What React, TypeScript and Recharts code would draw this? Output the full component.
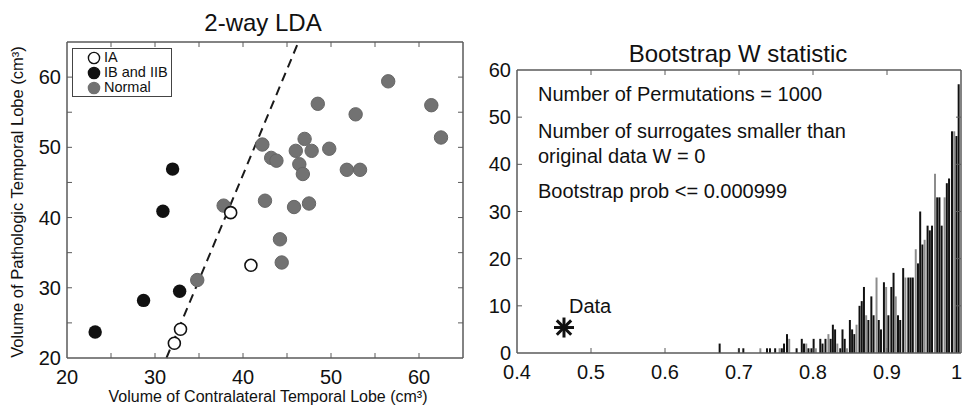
import {
  ScatterChart,
  ComposedChart,
  Scatter,
  Bar,
  Cell,
  XAxis,
  YAxis,
  Legend,
  ReferenceLine,
  ReferenceDot,
} from 'recharts';

// left panel: LDA scatter (cm3)
const iaPoints = [
  { x: 38.6, y: 40.7 },
  { x: 40.9, y: 33.2 },
  { x: 32.9, y: 24.1 },
  { x: 32.2, y: 22.1 },
];
const ibPoints = [
  { x: 32.0, y: 46.9 },
  { x: 30.9, y: 40.9 },
  { x: 32.8, y: 29.5 },
  { x: 28.7, y: 28.2 },
  { x: 23.2, y: 23.7 },
];
const normalPoints = [
  { x: 56.5, y: 59.4 },
  { x: 48.5, y: 56.2 },
  { x: 52.8, y: 54.7 },
  { x: 61.4, y: 56.0 },
  { x: 62.5, y: 51.4 },
  { x: 42.2, y: 50.4 },
  { x: 43.2, y: 48.5 },
  { x: 43.8, y: 48.1 },
  { x: 46.0, y: 49.5 },
  { x: 47.0, y: 51.2 },
  { x: 47.8, y: 49.5 },
  { x: 49.8, y: 49.8 },
  { x: 46.4, y: 47.6 },
  { x: 46.8, y: 46.2 },
  { x: 51.8, y: 46.8 },
  { x: 53.3, y: 46.8 },
  { x: 37.8, y: 41.7 },
  { x: 42.5, y: 42.4 },
  { x: 45.8, y: 41.5 },
  { x: 47.5, y: 42.0 },
  { x: 44.2, y: 36.9 },
  { x: 44.4, y: 33.6 },
  { x: 34.8, y: 31.1 },
];
const ldaBoundary = [
  { x: 31.3, y: 20 },
  { x: 46.3, y: 65 },
];
const ldaTicks = [20, 25, 30, 35, 40, 45, 50, 55, 60, 65];

// right panel: bootstrap histogram
const wBins = [
  0.674, 0.7, 0.706, 0.729, 0.738, 0.742, 0.749, 0.755, 0.758, 0.761,
  0.765, 0.768, 0.778, 0.785, 0.788, 0.791, 0.794, 0.798, 0.801, 0.804,
  0.81, 0.813, 0.817, 0.821, 0.824, 0.827, 0.83, 0.833, 0.837, 0.84,
  0.843, 0.846, 0.85, 0.853, 0.856, 0.859, 0.863, 0.866, 0.869, 0.872,
  0.875, 0.879, 0.882, 0.886, 0.889, 0.892, 0.896, 0.899, 0.902, 0.906,
  0.909, 0.912, 0.915, 0.918, 0.922, 0.925, 0.929, 0.932, 0.935, 0.939,
  0.942, 0.945, 0.948, 0.951, 0.955, 0.958, 0.961, 0.965, 0.968, 0.971,
  0.974, 0.978, 0.981, 0.984, 0.988, 0.991, 0.994, 0.997,
];
const wCounts = [
  2, 1, 1, 1, 1, 1, 1, 1, 1, 2,
  4, 3, 1, 3, 2, 2, 1, 1, 3, 1,
  3, 2, 3, 4, 3, 6, 5, 2, 1, 5,
  3, 1, 7, 5, 4, 6, 10, 11, 14, 8,
  7, 12, 8, 16, 7, 5, 15, 14, 8, 14,
  17, 12, 8, 7, 18, 16, 16, 16, 16, 22,
  19, 30, 23, 24, 27, 26, 27, 38, 33, 33,
  27, 33, 36, 37, 47, 47, 46, 57,
];
const observedW = { w: 0.4635, n: 5.4 };
const wTicks = [0.4, 0.5, 0.6, 0.7, 0.8, 0.9, 1.0];
const countTicks = [0, 10, 20, 30, 40, 50, 60];

const histRows = wBins.map((w, i) => ({ w, n: wCounts[i] }));

const FONT = "'Liberation Sans', Arial, Helvetica, sans-serif";
const INK = '#111';
const GRAY = '#727272';
const BOX = '#5a5a5a';
const TICK_LEN = 5;

// ticks point into the plot on every side, MATLAB-style (none drawn in the corners)
function makeTick(
  side: 'bottom' | 'top' | 'left' | 'right',
  ends: number[],
  label?: (v: number) => string | null,
) {
  return (props: any) => {
    const { x, y, payload } = props;
    const v = payload.value;
    const text = label ? label(v) : null;
    const edge = ends.some((e) => Math.abs(e - v) < 1e-9);
    let line = null;
    if (!edge) {
      if (side === 'bottom') line = <line x1={x} y1={y} x2={x} y2={y - TICK_LEN} stroke={BOX} />;
      else if (side === 'top') line = <line x1={x} y1={y} x2={x} y2={y + TICK_LEN} stroke={BOX} />;
      else if (side === 'left') line = <line x1={x} y1={y} x2={x + TICK_LEN} y2={y} stroke={BOX} />;
      else line = <line x1={x} y1={y} x2={x - TICK_LEN} y2={y} stroke={BOX} />;
    }
    const lastX = side === 'bottom' && text === '1';
    return (
      <g>
        {line}
        {text !== null && side === 'bottom' && (
          <text
            x={lastX ? x + 1 : x}
            y={y + 19}
            textAnchor={lastX ? 'end' : 'middle'}
            dominantBaseline="central"
            fontSize={20}
            fill={INK}
            fontFamily={FONT}
          >
            {text}
          </text>
        )}
        {text !== null && side === 'left' && (
          <text x={x - 6} y={y} textAnchor="end" dominantBaseline="central" fontSize={20} fill={INK} fontFamily={FONT}>
            {text}
          </text>
        )}
      </g>
    );
  };
}

const everyTen = (v: number) => (v % 10 === 0 && v <= 60 ? String(v) : null);
const wLabel = (v: number) => (Math.abs(v - 1) < 1e-9 ? '1' : String(Math.round(v * 10) / 10));
const plain = (v: number) => String(v);

const ldaEnds = [20, 65];
const wEnds = [0.4, 1];
const countEnds = [0, 60];

const openDot = (p: any) => <circle cx={p.cx} cy={p.cy} r={6} fill="#fff" stroke={INK} strokeWidth={1.6} />;
const blackDot = (p: any) => <circle cx={p.cx} cy={p.cy} r={6.7} fill={INK} />;
const grayDot = (p: any) => <circle cx={p.cx} cy={p.cy} r={6.7} fill={GRAY} stroke="#666" />;

const asterisk = (p: any) => {
  const r = 10;
  const d = r * 0.72;
  return (
    <g stroke={INK} strokeWidth={3}>
      <line x1={p.cx - r} y1={p.cy} x2={p.cx + r} y2={p.cy} />
      <line x1={p.cx} y1={p.cy - r} x2={p.cx} y2={p.cy + r} />
      <line x1={p.cx - d} y1={p.cy - d} x2={p.cx + d} y2={p.cy + d} />
      <line x1={p.cx - d} y1={p.cy + d} x2={p.cx + d} y2={p.cy - d} />
      <text x={p.cx + 5} y={p.cy - 15} fontSize={20} fill={INK} stroke="none" fontFamily={FONT}>
        Data
      </text>
    </g>
  );
};

const legendItems = [
  { name: 'IA', fill: '#fff', stroke: INK },
  { name: 'IB and IIB', fill: INK, stroke: INK },
  { name: 'Normal', fill: GRAY, stroke: GRAY },
];

const renderLegend = () => (
  <div
    style={{
      border: '1.5px solid #444',
      padding: '1px 4px 1px 14px',
      background: '#fff',
      fontFamily: FONT,
      fontSize: 14.5,
      color: INK,
      width: 80,
      whiteSpace: 'nowrap',
    }}
  >
    {legendItems.map((it) => (
      <div key={it.name} style={{ display: 'flex', alignItems: 'center', height: 15, lineHeight: '15px' }}>
        <svg width={14} height={14} style={{ marginRight: 3, flex: 'none' }}>
          <circle cx={7} cy={7} r={5.6} fill={it.fill} stroke={it.stroke} strokeWidth={1.4} />
        </svg>
        <span>{it.name}</span>
      </div>
    ))}
  </div>
);

const txt = (left: number, top: number, size: number, extra: any = {}) => ({
  position: 'absolute' as const,
  left,
  top,
  fontFamily: FONT,
  fontSize: size,
  color: INK,
  whiteSpace: 'nowrap' as const,
  lineHeight: 1,
  ...extra,
});

const axisLine = { stroke: BOX, strokeWidth: 1.5 };

export default function App() {
  return (
    <div style={{ position: 'absolute', left: 0, top: 0, width: 962, height: 411, background: '#fff', overflow: 'hidden' }}>
      {/* left: 2-way LDA */}
      <div style={{ position: 'absolute', left: 0, top: 0 }}>
        <ScatterChart width={480} height={411} margin={{ top: 41, right: 16, bottom: 52, left: 66 }}>
          <XAxis
            type="number"
            dataKey="x"
            domain={[20, 65]}
            allowDataOverflow
            ticks={ldaTicks}
            height={1}
            tickSize={0}
            tickMargin={0}
            interval={0}
            axisLine={axisLine}
            tickLine={false}
            tick={makeTick('bottom', ldaEnds, everyTen)}
          />
          <XAxis
            xAxisId="top"
            orientation="top"
            type="number"
            dataKey="x"
            domain={[20, 65]}
            allowDataOverflow
            ticks={ldaTicks}
            height={1}
            tickSize={0}
            tickMargin={0}
            interval={0}
            axisLine={axisLine}
            tickLine={false}
            tick={makeTick('top', ldaEnds)}
          />
          <YAxis
            type="number"
            dataKey="y"
            domain={[20, 65]}
            allowDataOverflow
            ticks={ldaTicks}
            width={1}
            tickSize={0}
            tickMargin={0}
            interval={0}
            axisLine={axisLine}
            tickLine={false}
            tick={makeTick('left', ldaEnds, everyTen)}
          />
          <YAxis
            yAxisId="right"
            orientation="right"
            type="number"
            dataKey="y"
            domain={[20, 65]}
            allowDataOverflow
            ticks={ldaTicks}
            width={1}
            tickSize={0}
            tickMargin={0}
            interval={0}
            axisLine={axisLine}
            tickLine={false}
            tick={makeTick('right', ldaEnds)}
          />
          <ReferenceLine
            segment={ldaBoundary}
            stroke="#1a1a1a"
            strokeWidth={2}
            strokeDasharray="9 6"
          />
          <Scatter name="Normal" data={normalPoints} shape={grayDot} isAnimationActive={false} />
          <Scatter name="IB and IIB" data={ibPoints} shape={blackDot} isAnimationActive={false} />
          <Scatter name="IA" data={iaPoints} shape={openDot} isAnimationActive={false} />
          <Legend
            layout="vertical"
            align="center"
            verticalAlign="middle"
            content={renderLegend}
            wrapperStyle={{ left: 72, top: 48, width: 100 }}
          />
        </ScatterChart>
      </div>
      <div style={txt(263, 23, 24, { transform: 'translate(-50%, -50%)' })}>2-way LDA</div>
      <div style={txt(268, 397, 16, { transform: 'translate(-50%, -50%)' })}>
        Volume of Contralateral Temporal Lobe (cm³)
      </div>
      <div style={txt(17, 202, 16.5, { transform: 'translate(-50%, -50%) rotate(-90deg)' })}>
        Volume of Pathologic Temporal Lobe (cm³)
      </div>

      {/* right: bootstrap histogram */}
      <div style={{ position: 'absolute', left: 470, top: 0 }}>
        <ComposedChart width={492} height={411} data={histRows} margin={{ top: 69, right: 0, bottom: 57, left: 46 }}>
          <XAxis
            type="number"
            dataKey="w"
            domain={[0.4, 1]}
            allowDataOverflow
            ticks={wTicks}
            height={1}
            tickSize={0}
            tickMargin={0}
            interval={0}
            axisLine={axisLine}
            tickLine={false}
            tick={makeTick('bottom', wEnds, wLabel)}
          />
          <XAxis
            xAxisId="top"
            orientation="top"
            type="number"
            dataKey="w"
            domain={[0.4, 1]}
            allowDataOverflow
            ticks={wTicks}
            height={1}
            tickSize={0}
            tickMargin={0}
            interval={0}
            axisLine={axisLine}
            tickLine={false}
            tick={makeTick('top', wEnds)}
          />
          <YAxis
            type="number"
            dataKey="n"
            domain={[0, 60]}
            allowDataOverflow
            ticks={countTicks}
            width={1}
            tickSize={0}
            tickMargin={0}
            interval={0}
            axisLine={axisLine}
            tickLine={false}
            tick={makeTick('left', countEnds, plain)}
          />
          <YAxis
            yAxisId="right"
            orientation="right"
            type="number"
            dataKey="n"
            domain={[0, 60]}
            allowDataOverflow
            ticks={countTicks}
            width={1}
            tickSize={0}
            tickMargin={0}
            interval={0}
            axisLine={axisLine}
            tickLine={false}
            tick={makeTick('right', countEnds)}
          />
          <Bar dataKey="n" barSize={3.1} isAnimationActive={false}>
            {histRows.map((_, i) => (
              <Cell key={i} fill={i % 4 === 3 ? '#8c8c8c' : INK} />
            ))}
          </Bar>
          <ReferenceDot x={observedW.w} y={observedW.n} shape={asterisk} />
        </ComposedChart>
      </div>
      <div style={txt(738, 54, 24, { transform: 'translate(-50%, -50%)' })}>Bootstrap W statistic</div>
      <div style={txt(538, 84, 20)}>Number of Permutations = 1000</div>
      <div style={txt(538, 121, 20)}>Number of surrogates smaller than</div>
      <div style={txt(538, 146, 20)}>original data W = 0</div>
      <div style={txt(538, 181, 20)}>Bootstrap prob &lt;= 0.000999</div>
    </div>
  );
}
